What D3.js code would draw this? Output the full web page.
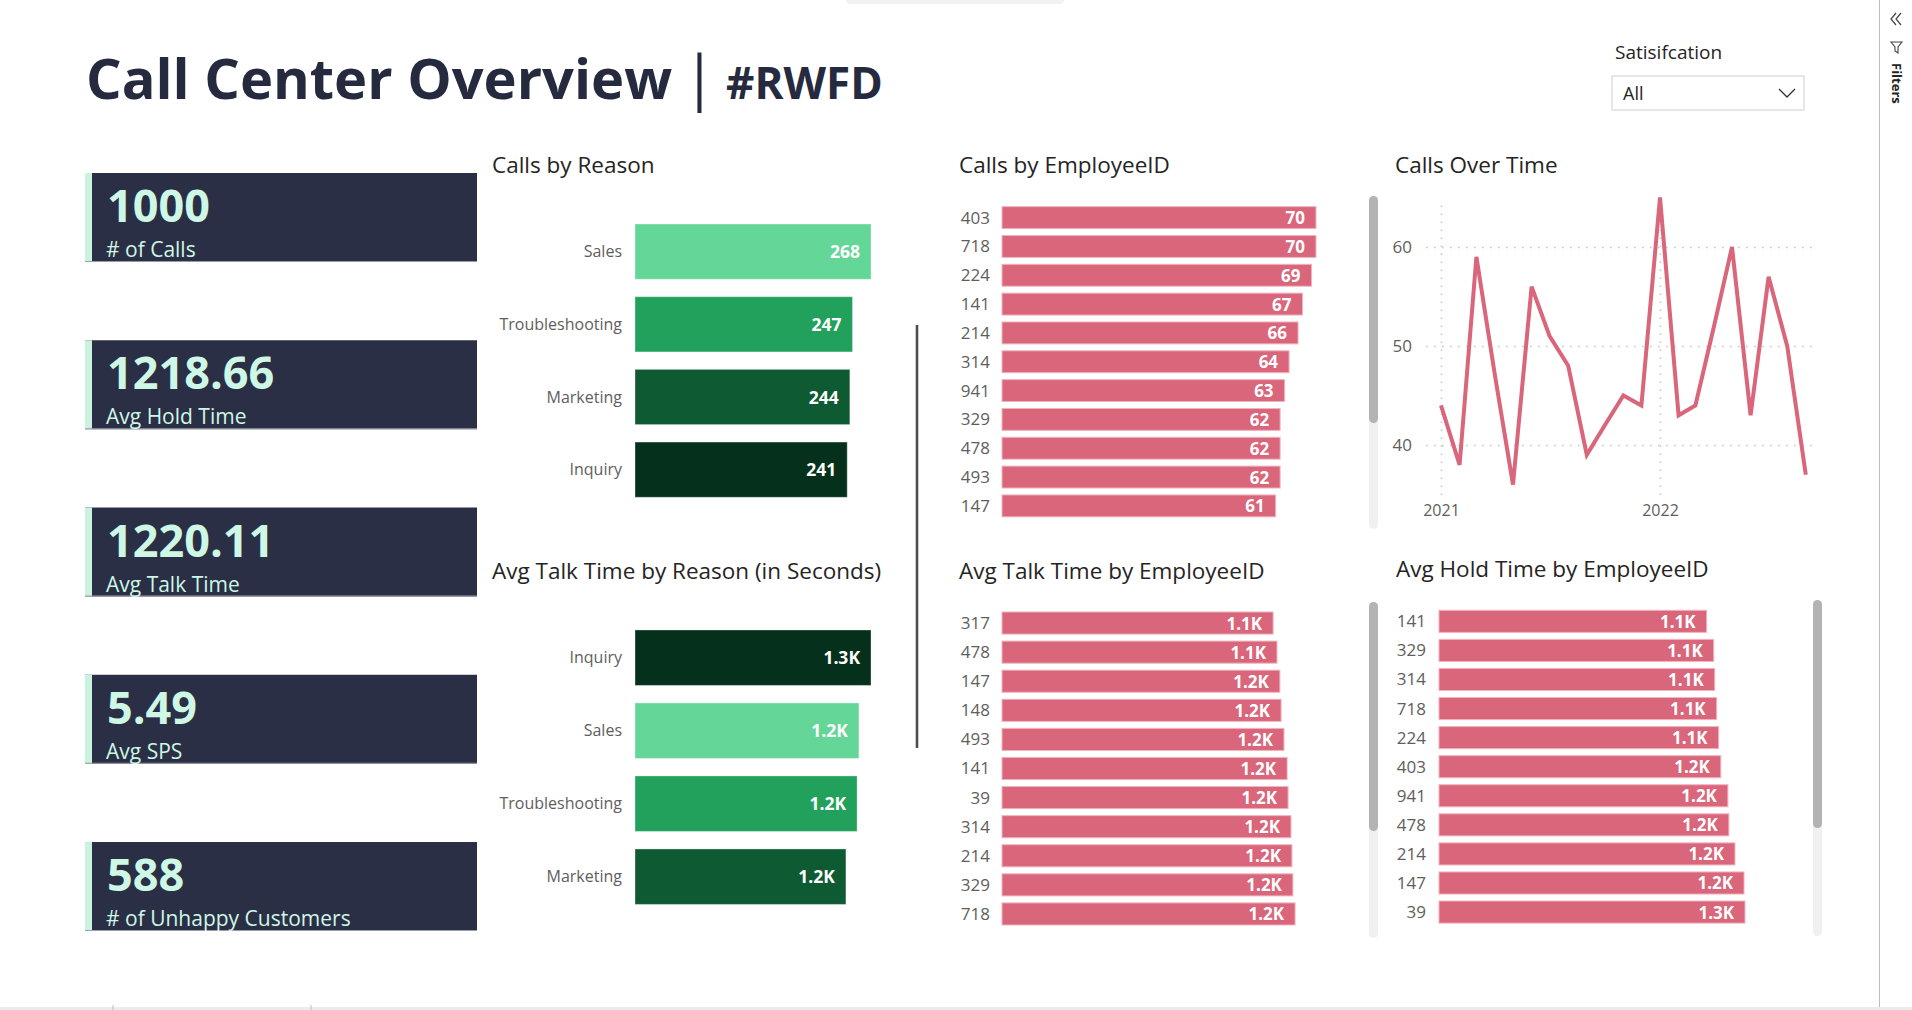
<!DOCTYPE html>
<html>
<head>
<meta charset="utf-8">
<script src="https://cdn.jsdelivr.net/npm/d3@7"></script>
<style>
  body { margin: 0; background: #fff; overflow: hidden; }
  svg text { font-family: "Open Sans", sans-serif; }
</style>
</head>
<body>
<script>
// ---- data ----
const kpiValues = ["1000", "1218.66", "1220.11", "5.49", "588"];
const kpiLabels = ["# of Calls", "Avg Hold Time", "Avg Talk Time", "Avg SPS", "# of Unhappy Customers"];

const reasonOrder = ["Sales", "Troubleshooting", "Marketing", "Inquiry"];

const callReasons = ["Sales", "Troubleshooting", "Marketing", "Inquiry"];
const callReasonCounts = [268, 247, 244, 241];

const talkReasons = ["Inquiry", "Sales", "Troubleshooting", "Marketing"];
const talkReasonSecs = [1290, 1224, 1214, 1153];

const callEmpIds = ["403", "718", "224", "141", "214", "314", "941", "329", "478", "493", "147"];
const callEmpCounts = [70, 70, 69, 67, 66, 64, 63, 62, 62, 62, 61];

const talkEmpIds = ["317", "478", "147", "148", "493", "141", "39", "314", "214", "329", "718"];
const talkEmpSecs = [1124, 1140, 1152, 1157, 1169, 1182, 1186, 1198, 1202, 1206, 1215];

const holdEmpIds = ["141", "329", "314", "718", "224", "403", "941", "478", "214", "147", "39"];
const holdEmpSecs = [1095, 1124, 1128, 1136, 1144, 1153, 1182, 1186, 1211, 1248, 1252];

const months = ["2021-01", "2021-02", "2021-03", "2021-04", "2021-05", "2021-06", "2021-07",
  "2021-08", "2021-09", "2021-10", "2021-11", "2021-12", "2022-01", "2022-02", "2022-03",
  "2022-04", "2022-05", "2022-06", "2022-07", "2022-08", "2022-09"];
const monthlyCalls = [44, 38, 59, 47, 36, 56, 51, 48, 39, 42, 45, 44, 65, 43, 44, 52, 60, 43, 57, 50, 37];
const yearTicks = ["2021", "2022"];
const callTicks = [40, 50, 60];

// ---- styles ----
const navy = "#2a2f45";
const mint = "#cff7e6";
const pink = "#d9667a";
const grayText = "#605e5c";
const titleFont = "Roboto, sans-serif";
const reasonColor = d3.scaleOrdinal()
  .domain(reasonOrder)
  .range(["#63d698", "#22a15c", "#0e5b33", "#05311c"]);

const fmtK = d => d3.format(".2s")(d).replace("k", "K");

const svg = d3.select("body").append("svg")
  .attr("width", 1912)
  .attr("height", 1010);

// page header
svg.append("rect").attr("x", 846).attr("y", -4).attr("width", 218).attr("height", 8)
  .attr("rx", 4).attr("fill", "#f2f2f2");

svg.append("text").attr("x", 86).attr("y", 99)
  .attr("font-size", 56).attr("font-weight", 700).attr("fill", "#252a3e")
  .text("Call Center Overview");
svg.append("text").attr("x", 683).attr("y", 99)
  .attr("font-size", 60).attr("font-weight", 400).attr("fill", "#252a3e")
  .text("|");
svg.append("text").attr("x", 726).attr("y", 99)
  .attr("font-size", 44).attr("font-weight", 700).attr("fill", "#252a3e")
  .text("#RWFD");

// slicer
svg.append("text").attr("x", 1615).attr("y", 59)
  .attr("font-family", titleFont).attr("font-size", 19).attr("fill", "#252423")
  .text("Satisifcation");
svg.append("rect").attr("x", 1612).attr("y", 76).attr("width", 192).attr("height", 34)
  .attr("fill", "#fff").attr("stroke", "#e6e6e6").attr("stroke-width", 2);
svg.append("text").attr("x", 1623).attr("y", 100)
  .attr("font-family", titleFont).attr("font-size", 18).attr("fill", "#252423")
  .text("All");
svg.append("path").attr("d", "M1779,89 L1787,97 L1795,89")
  .attr("fill", "none").attr("stroke", "#333").attr("stroke-width", 1.3);

// filters pane
svg.append("line").attr("x1", 1879.5).attr("x2", 1879.5).attr("y1", 0).attr("y2", 1008)
  .attr("stroke", "#bdbdbd");
svg.append("path").attr("d", "M1896,13 L1891,19 L1896,25 M1901,13 L1896,19 L1901,25")
  .attr("fill", "none").attr("stroke", "#444").attr("stroke-width", 1.2);
svg.append("path").attr("d", "M1891,42 L1902,42 L1898,47 L1898,53 L1895,51 L1895,47 Z")
  .attr("fill", "none").attr("stroke", "#444").attr("stroke-width", 1.1);
svg.append("text").attr("transform", "translate(1892,63) rotate(90)")
  .attr("font-size", 13).attr("font-weight", 700).attr("fill", "#252423")
  .text("Filters");

// bottom tab strip
svg.append("rect").attr("x", 0).attr("y", 1007).attr("width", 1912).attr("height", 3).attr("fill", "#ececec");
[113, 311].forEach(x => svg.append("line").attr("x1", x).attr("x2", x).attr("y1", 1005).attr("y2", 1010).attr("stroke", "#bbb"));

// ---- KPI cards ----
const cardY = d3.scaleBand().domain(kpiLabels).range([173, 931]).paddingInner(0.468).paddingOuter(0);
const cards = svg.append("g").selectAll("g").data(kpiLabels).join("g")
  .attr("transform", d => `translate(0,${cardY(d)})`);
cards.append("rect").attr("x", 85).attr("width", 392).attr("height", cardY.bandwidth()).attr("fill", navy);
cards.append("rect").attr("x", 85).attr("width", 7).attr("height", cardY.bandwidth()).attr("fill", "#c9f3df");
cards.append("line").attr("x1", 85).attr("x2", 477)
  .attr("y1", cardY.bandwidth() - 0.5).attr("y2", cardY.bandwidth() - 0.5)
  .attr("stroke", "#9a9eaa");
cards.append("text").attr("x", 107).attr("y", 49)
  .attr("font-size", 45).attr("font-weight", 700).attr("fill", mint)
  .text((d, i) => kpiValues[i]);
cards.append("text").attr("x", 106).attr("y", 84)
  .attr("font-size", 21).attr("fill", mint)
  .text(d => d);

// ---- chart titles ----
function title(x, y, t) {
  svg.append("text").attr("x", x).attr("y", y)
    .attr("font-family", titleFont).attr("font-size", 22.5).attr("fill", "#252423")
    .text(t);
}
title(492, 173, "Calls by Reason");
title(492, 579, "Avg Talk Time by Reason (in Seconds)");
title(959, 173, "Calls by EmployeeID");
title(1395, 173, "Calls Over Time");
title(959, 579, "Avg Talk Time by EmployeeID");
title(1396, 577, "Avg Hold Time by EmployeeID");

// divider
svg.append("line").attr("x1", 917).attr("x2", 917).attr("y1", 325).attr("y2", 748)
  .attr("stroke", "#4d4d4d").attr("stroke-width", 2.6);

// ---- horizontal bar charts ----
function hbars(cfg) {
  const y = d3.scaleBand().domain(cfg.ids).range(cfg.yRange).paddingInner(0.24).paddingOuter(0.12);
  const g = svg.append("g").attr("transform", `translate(${cfg.left},0)`);

  g.selectAll("rect.bar").data(cfg.ids).join("rect")
    .attr("class", "bar")
    .attr("x", 0)
    .attr("y", d => y(d))
    .attr("height", y.bandwidth())
    .attr("width", (d, i) => cfg.x(cfg.vals[i]))
    .attr("fill", d => cfg.fill(d))
    .attr("stroke", cfg.stroke || "none")
    .attr("stroke-width", 1);

  const ax = g.append("g")
    .call(d3.axisLeft(y).tickSize(0).tickPadding(cfg.pad))
    .attr("font-size", null).attr("font-family", null);
  ax.select(".domain").remove();
  ax.selectAll("text")
    .attr("font-size", cfg.catSize)
    .attr("fill", grayText)
    .attr("dy", "0.35em");

  g.selectAll("text.val").data(cfg.ids).join("text")
    .attr("class", "val")
    .attr("x", (d, i) => cfg.x(cfg.vals[i]) - 11)
    .attr("y", d => y(d) + y.bandwidth() / 2)
    .attr("dy", "0.38em")
    .attr("text-anchor", "end")
    .attr("font-size", cfg.valSize)
    .attr("font-weight", 700)
    .attr("fill", "#fff")
    .text((d, i) => cfg.fmt(cfg.vals[i]));
}

const xCallReason = d3.scaleLinear().domain([0, d3.max(callReasonCounts)]).range([0, 236]);
hbars({
  ids: callReasons, vals: callReasonCounts, left: 635, yRange: [215.3, 506],
  x: xCallReason, fill: d => reasonColor(d), stroke: "rgba(255,255,255,0.35)",
  pad: 13, catSize: 16, valSize: 17.5, fmt: d3.format("d")
});

const xTalkReason = d3.scaleLinear().domain([0, d3.max(talkReasonSecs)]).range([0, 236]);
hbars({
  ids: talkReasons, vals: talkReasonSecs, left: 635, yRange: [621.2, 913.2],
  x: xTalkReason, fill: d => reasonColor(d), stroke: "rgba(255,255,255,0.35)",
  pad: 13, catSize: 16, valSize: 17.5, fmt: fmtK
});

const xCallEmp = d3.scaleLinear().domain([0, d3.max(callEmpCounts)]).range([0, 314]);
hbars({
  ids: callEmpIds, vals: callEmpCounts, left: 1002, yRange: [203.2, 520.3],
  x: xCallEmp, fill: () => pink, stroke: "#f0b4be",
  pad: 12, catSize: 17, valSize: 17, fmt: d3.format("d")
});

const xTalkEmp = d3.scaleLinear().domain([0, d3.max(holdEmpSecs)]).range([0, 302]);
hbars({
  ids: talkEmpIds, vals: talkEmpSecs, left: 1002, yRange: [608.5, 928.5],
  x: xTalkEmp, fill: () => pink, stroke: "#f0b4be",
  pad: 12, catSize: 17, valSize: 17, fmt: fmtK
});
const xHoldEmp = d3.scaleLinear().domain([0, d3.max(holdEmpSecs)]).range([0, 306]);
hbars({
  ids: holdEmpIds, vals: holdEmpSecs, left: 1439, yRange: [606.8, 926.6],
  x: xHoldEmp, fill: () => pink, stroke: "#f0b4be",
  pad: 13, catSize: 17, valSize: 17, fmt: fmtK
});

// scrollbars
function scrollbar(x, y0, y1, thumbEnd) {
  svg.append("rect").attr("x", x).attr("y", y0).attr("width", 9).attr("height", y1 - y0)
    .attr("rx", 4.5).attr("fill", "#f0f0f0");
  svg.append("rect").attr("x", x).attr("y", y0).attr("width", 9).attr("height", thumbEnd - y0)
    .attr("rx", 4.5).attr("fill", "#b3b3b3");
}
scrollbar(1369, 196, 529, 423);
scrollbar(1369, 602, 938, 831);
scrollbar(1813, 600, 936, 828);

// ---- line chart ----
const parseMonth = d3.timeParse("%Y-%m");
const monthDates = months.map(parseMonth);
const xTime = d3.scaleTime()
  .domain([parseMonth("2021-01"), parseMonth("2022-01")])
  .range([1441, 1660]);
const yCalls = d3.scaleLinear().domain([40, 60]).range([445, 247]);

const gy = svg.append("g").attr("transform", "translate(1426,0)")
  .call(d3.axisLeft(yCalls).tickValues(callTicks).tickSize(-386).tickPadding(14))
  .attr("font-size", null).attr("font-family", null);
gy.select(".domain").remove();
gy.selectAll("line").attr("stroke", "#c8c6c4").attr("stroke-width", 1.6).attr("stroke-dasharray", "1.6 6.4");
gy.selectAll("text").attr("font-size", 17).attr("fill", grayText);

const gx = svg.append("g").attr("transform", "translate(0,495)")
  .call(d3.axisBottom(xTime).tickValues(yearTicks.map(d3.timeParse("%Y")))
    .tickFormat(d3.timeFormat("%Y")).tickSize(-295).tickPadding(10))
  .attr("font-size", null).attr("font-family", null);
gx.select(".domain").remove();
gx.selectAll("line").attr("stroke", "#c8c6c4").attr("stroke-width", 1.6).attr("stroke-dasharray", "1.6 6.4");
gx.selectAll("text").attr("font-size", 16).attr("fill", grayText);

const line = d3.line()
  .x((d, i) => xTime(monthDates[i]))
  .y(d => yCalls(d));
svg.append("path")
  .attr("d", line(monthlyCalls))
  .attr("fill", "none")
  .attr("stroke", pink)
  .attr("stroke-width", 4);
</script>
</body>
</html>
